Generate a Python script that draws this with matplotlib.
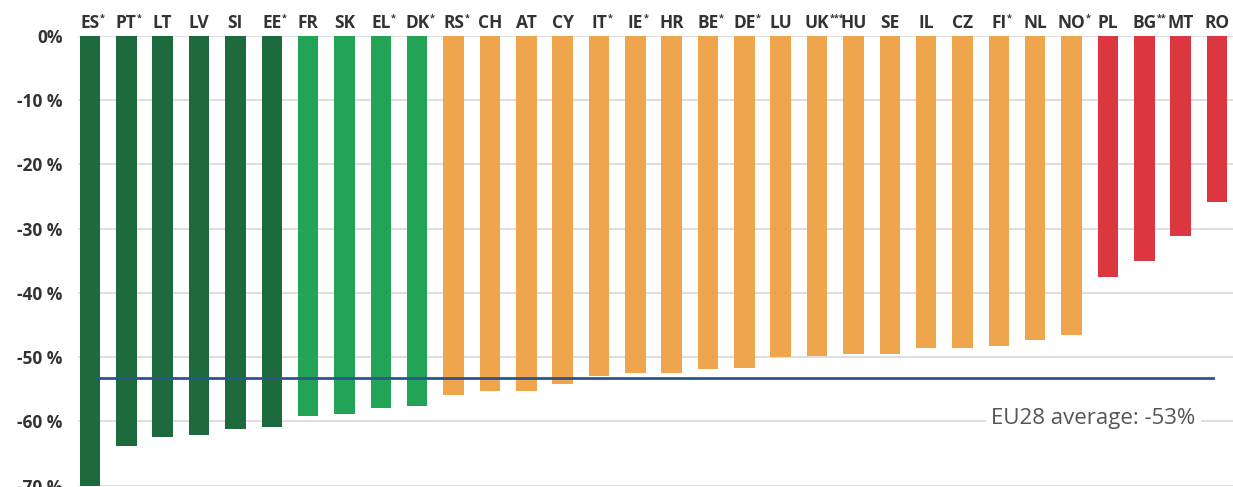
import matplotlib
matplotlib.use("Agg")
import matplotlib.pyplot as plt

countries = ["ES", "PT", "LT", "LV", "SI", "EE", "FR", "SK", "EL", "DK",
             "RS", "CH", "AT", "CY", "IT", "IE", "HR", "BE", "DE", "LU",
             "UK", "HU", "SE", "IL", "CZ", "FI", "NL", "NO", "PL", "BG", "MT", "RO"]
footnotes = ["*", "*", "", "", "", "*", "", "", "*", "*",
             "*", "", "", "", "*", "*", "", "*", "*", "",
             "***", "", "", "", "", "*", "", "*", "", "**", "", ""]
values = [-73.0, -63.8, -62.5, -62.1, -61.2, -60.9, -59.1, -58.8, -57.9, -57.6,
          -55.9, -55.3, -55.2, -54.2, -52.9, -52.4, -52.4, -51.8, -51.7, -50.0,
          -49.8, -49.5, -49.5, -48.6, -48.5, -48.3, -47.4, -46.5, -37.5, -35.1, -31.2, -25.8]
groups = ["dark"] * 6 + ["light"] * 4 + ["orange"] * 18 + ["red"] * 4
eu_average = -53.2
eu_label = "EU28 average: -53%"
yticks = [0, -10, -20, -30, -40, -50, -60, -70]
ytick_labels = ["0%", "-10 %", "-20 %", "-30 %", "-40 %", "-50 %", "-60 %", "-70 %"]

palette = {"dark": "#1d6b3d", "light": "#22a355", "orange": "#eea54b", "red": "#dc3641"}

plt.rcParams['font.family'] = ['Open Sans', 'DejaVu Sans']

fig = plt.figure(figsize=(12.33, 4.87), dpi=100)
ax = fig.add_axes([78 / 1233, 1 / 487, (1233 - 78) / 1233, (486 - 36) / 487])

x = list(range(len(countries)))
ax.bar(x, values, width=0.565, color=[palette[g] for g in groups], zorder=2)

ax.set_xlim(-0.33, len(countries) - 0.56)
ax.set_ylim(-70.05, 0)

ax.set_yticks(yticks)
ax.set_yticklabels(ytick_labels, fontsize=12.5, fontweight='bold', color='#333333')
ax.yaxis.grid(True, color='#dedede', linewidth=1.4, zorder=0)
ax.tick_params(axis='y', length=0, pad=11)

ax.xaxis.tick_top()
ax.set_xticks(x)
ax.set_xticklabels(countries, fontsize=12.5, fontweight='bold', color='#333333')
ax.tick_params(axis='x', length=0, pad=3)

for s in ax.spines.values():
    s.set_visible(False)

fig.canvas.draw()
for lab, f in zip(ax.get_xticklabels(), footnotes):
    if f:
        ax.annotate(f, xy=(1, 1), xycoords=lab, xytext=(0.3, 0.5), textcoords='offset points',
                    ha='left', va='top', fontsize=6.5, fontweight='bold', color='#333333',
                    annotation_clip=False)

ax.plot([0.19, 30.9], [eu_average, eu_average], color='#2b5591', linewidth=2.0, zorder=3)

ax.text(27.6, -59.5, eu_label, fontsize=16, color='#555555', ha='center', va='center',
        bbox=dict(facecolor='white', edgecolor='none', pad=4), zorder=4)

fig.savefig("out.png", dpi=100)
